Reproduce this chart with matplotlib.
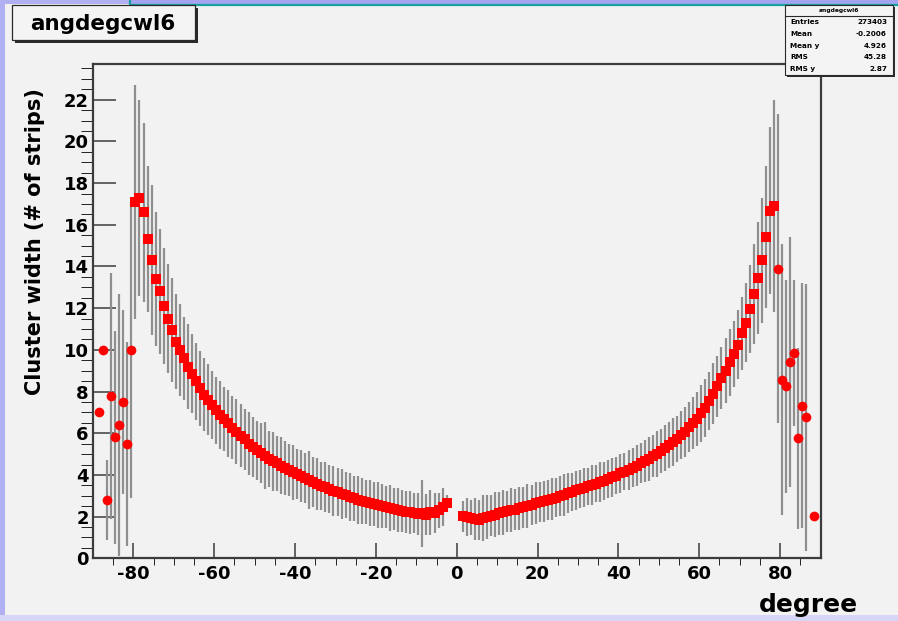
import matplotlib.pyplot as plt
import numpy as np
from matplotlib.patches import Rectangle

plt.rcParams["font.family"] = "DejaVu Sans"
plt.rcParams["font.weight"] = "bold"
plt.rcParams["axes.unicode_minus"] = False

nan = np.nan

# profile histogram: 180 bins of 1 degree between -90 and 90
n_bins, x_lo, x_hi = 180, -90.0, 90.0

# mean cluster width per bin (rows of 10 bins, starting at -89.5)
cw_mean = [
    nan, 7.0, 10.0, 2.8, 7.8, 5.8, 6.4, 7.5, 5.5, 10.0,
    17.1, 17.3, 16.6, 15.3, 14.3, 13.4, 12.8, 12.1, 11.5, 10.95,
    10.4, 10.0, 9.6, 9.2, 8.85, 8.5, 8.15, 7.85, 7.6, 7.35,
    7.1, 6.88, 6.68, 6.47, 6.27, 6.08, 5.88, 5.7, 5.5, 5.33,
    5.18, 5.05, 4.92, 4.78, 4.65, 4.55, 4.45, 4.33, 4.22, 4.12,
    4.03, 3.93, 3.85, 3.75, 3.66, 3.57, 3.48, 3.41, 3.33, 3.24,
    3.16, 3.09, 3.02, 2.95, 2.87, 2.8, 2.74, 2.7, 2.65, 2.6,
    2.55, 2.5, 2.45, 2.4, 2.35, 2.3, 2.27, 2.23, 2.2, 2.16,
    2.12, 2.15, 2.1, 2.2, 2.18, 2.3, 2.45, 2.65, nan, nan,
    nan, 2.02, 1.98, 1.95, 1.9, 1.85, 1.92, 1.98, 2.05, 2.1,
    2.15, 2.2, 2.25, 2.3, 2.34, 2.39, 2.44, 2.5, 2.56, 2.64,
    2.69, 2.73, 2.79, 2.85, 2.91, 2.98, 3.05, 3.12, 3.19, 3.26,
    3.33, 3.39, 3.45, 3.51, 3.58, 3.65, 3.72, 3.8, 3.88, 3.97,
    4.07, 4.16, 4.25, 4.35, 4.45, 4.56, 4.67, 4.78, 4.9, 5.02,
    5.14, 5.28, 5.42, 5.57, 5.73, 5.9, 6.08, 6.28, 6.48, 6.7,
    6.95, 7.2, 7.55, 7.9, 8.25, 8.65, 9.0, 9.4, 9.8, 10.25,
    10.8, 11.3, 11.95, 12.7, 13.45, 14.3, 15.4, 16.67, 16.9, 13.9,
    8.57, 8.25, 9.42, 9.87, 5.75, 7.33, 6.76, nan, 2.01, nan,
]

# spread (error bar half length) per bin
cw_err = [
    nan, 0.0, 0.0, 1.9, 5.9, 5.1, 6.3, 4.4, 4.9, 7.1,
    5.6, 4.7, 4.3, 3.5, 3.6, 3.2, 3.0, 2.8, 2.6, 2.5,
    2.3, 2.2, 2.0, 2.05, 1.9, 1.85, 1.8, 1.75, 1.7, 1.65,
    1.6, 1.65, 1.55, 1.6, 1.5, 1.55, 1.5, 1.45, 1.5, 1.45,
    1.4, 1.45, 1.6, 1.35, 1.4, 1.3, 1.35, 1.3, 1.25, 1.3,
    1.2, 1.25, 1.2, 1.4, 1.2, 1.25, 1.15, 1.2, 1.15, 1.2,
    1.15, 1.2, 1.1, 1.15, 1.1, 1.15, 1.1, 1.05, 1.1, 1.05,
    1.1, 1.05, 1.0, 1.1, 1.0, 1.05, 1.0, 1.0, 1.05, 0.95,
    1.0, 1.6, 1.0, 1.1, 0.95, 0.85, 0.9, 0.4, nan, nan,
    nan, 0.75, 0.9, 0.85, 1.0, 0.95, 1.1, 1.05, 1.0, 1.1,
    1.05, 1.1, 1.0, 1.05, 1.0, 1.05, 1.0, 1.05, 0.95, 1.0,
    0.95, 1.0, 0.95, 1.0, 0.95, 0.95, 1.0, 0.95, 0.9, 0.95,
    0.9, 0.95, 0.9, 0.95, 0.9, 0.95, 0.9, 0.9, 0.95, 0.9,
    0.95, 0.9, 0.95, 0.95, 1.0, 0.95, 1.0, 1.05, 1.0, 1.1,
    1.05, 1.1, 1.1, 1.15, 1.1, 1.15, 1.2, 1.2, 1.25, 1.3,
    1.35, 1.4, 1.4, 1.45, 1.45, 1.5, 1.55, 1.6, 1.6, 1.65,
    1.75, 1.9, 2.1, 2.4, 2.7, 3.0, 3.4, 4.0, 5.1, 7.4,
    6.5, 5.1, 6.0, 3.5, 4.35, 5.9, 6.4, nan, 0.0, nan,
]

stat_names = ["Entries", "Mean", "Mean y", "RMS", "RMS y"]
stat_values = ["273403", "-0.2006", "4.926", "45.28", "2.87"]
hist_name = "angdegcwl6"

edges = np.linspace(x_lo, x_hi, n_bins + 1)
centers = 0.5 * (edges[:-1] + edges[1:])
cw_mean = np.array(cw_mean)
cw_err = np.array(cw_err)

W, H = 898, 621
fig = plt.figure(figsize=(W / 100, H / 100), dpi=100, facecolor="#b0b0f2")

# canvas background (pixel coords)
bg = fig.add_axes([0, 0, 1, 1], zorder=-1)
bg.set_xlim(0, W)
bg.set_ylim(H, 0)
bg.axis("off")
bg.add_patch(Rectangle((0, 615), W, 10, fc="#d6d6f6", ec="none"))
bg.add_patch(Rectangle((5, 4), W, 611, fc="#f2f2f2", ec="none"))
bg.add_patch(Rectangle((130, -5), W, 9.5, fc="#a4a4ee", ec="#17a0a0", lw=1.6))

# main pad
ax = fig.add_axes([93 / W, 1 - 558.3 / H, 727.5 / W, 494 / H])
ax.set_facecolor("#f2f2f2")

ok = ~np.isnan(cw_mean)
ax.errorbar(centers[ok], cw_mean[ok], yerr=cw_err[ok], fmt="none",
            ecolor="#8f8f8f", elinewidth=1.6, capsize=0, zorder=2)
sparse = ok & ((centers < -80) | (centers > 79))
dense = ok & ~sparse
ax.plot(centers[dense], cw_mean[dense], "s", color="#ff0000", ms=6.6, mew=0, zorder=3)
ax.plot(centers[sparse], cw_mean[sparse], "o", color="#ff0000", ms=7, mew=0, zorder=3)

ax.set_xlim(x_lo, x_hi)
ax.set_ylim(0, 23.7)
ax.set_xticks(np.arange(-80, 81, 20))
ax.set_xticks(np.arange(-85, 90, 5), minor=True)
ax.set_yticks(np.arange(0, 23, 2))
ax.set_yticks(np.arange(0, 23.7, 0.5), minor=True)
ax.tick_params(axis="both", direction="in", color="#3c3c3c", width=1.1,
               labelsize=13, labelcolor="black")
ax.tick_params(axis="x", which="major", length=10.8, pad=5)
ax.tick_params(axis="x", which="minor", length=5)
ax.tick_params(axis="y", which="major", length=16.5, pad=3)
ax.tick_params(axis="y", which="minor", length=8.6)
for sp in ax.spines.values():
    sp.set_color("#3c3c3c")
    sp.set_linewidth(1.6)

# overlay for boxes and titles
ov = fig.add_axes([0, 0, 1, 1], zorder=5)
ov.set_xlim(0, W)
ov.set_ylim(H, 0)
ov.axis("off")

# title box with shadow
ov.add_patch(Rectangle((14.5, 7.5), 183, 35, fc="#2a2a2a", ec="none"))
ov.add_patch(Rectangle((12, 5), 183, 35, fc="#f4f4f4", ec="#2a2a2a", lw=0.9))
ov.text(103, 29.5, hist_name, fontsize=15.5, ha="center", va="baseline")

# stats box with shadow
ov.add_patch(Rectangle((787, 7), 108, 70, fc="#2a2a2a", ec="none"))
ov.add_patch(Rectangle((785, 5), 108, 70, fc="#f4f4f4", ec="#2a2a2a", lw=0.8))
ov.plot([785, 893], [15.5, 15.5], color="#2a2a2a", lw=0.8)
ov.text(839, 10.5, hist_name, fontsize=4.3, ha="center", va="center")
for i, (name, val) in enumerate(zip(stat_names, stat_values)):
    yy = 22.5 + i * 11.6
    ov.text(790, yy, name, fontsize=5.2, ha="left", va="center")
    ov.text(887, yy, val, fontsize=5.2, ha="right", va="center")

ov.text(35, 241.5, "Cluster width (# of strips)", fontsize=15, rotation=90,
        ha="center", va="center")
ov.text(858, 612, "degree", fontsize=18, ha="right", va="baseline")

fig.savefig("out.png", dpi=100, facecolor=fig.get_facecolor())
